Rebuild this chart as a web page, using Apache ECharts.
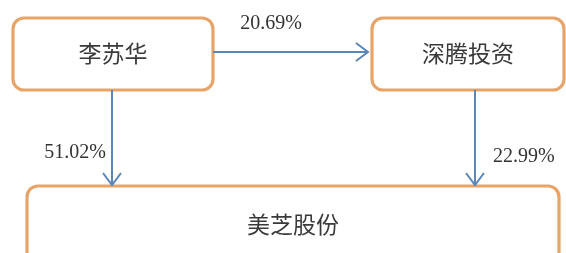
<!DOCTYPE html>
<html>
<head>
<meta charset="utf-8">
<script src="https://cdn.jsdelivr.net/npm/echarts@6/dist/echarts.min.js"></script>
<style>html,body{margin:0;padding:0;background:#fff}#c{width:566px;height:253px}</style>
</head>
<body>
<div id="c"></div>
<script>
// Data
const entities = ['李苏华', '深腾投资', '美芝股份'];
const linkFrom = ['李苏华', '李苏华', '深腾投资'];
const linkTo = ['深腾投资', '美芝股份', '美芝股份'];
const sharePct = [20.69, 51.02, 22.99];

// Layout (in canvas units mapped through hidden value axes)
const boxLayout = {
  '李苏华': [13, 18, 213, 90],
  '深腾投资': [372, 18, 564, 90],
  '美芝股份': [27, 186, 559, 264]
};
const linkLayout = [
  { p: [[213, 52], [368, 52]], label: [271, 24], align: 'center' },
  { p: [[112, 90], [112, 185]], label: [106, 153], align: 'right' },
  { p: [[475, 90], [475, 185]], label: [493, 157], align: 'left' }
];

const boxData = entities.map(n => [...boxLayout[n], n]);
const linkData = sharePct.map((v, i) => {
  const L = linkLayout[i];
  return [L.p[0][0], L.p[0][1], L.p[1][0], L.p[1][1], L.label[0], L.label[1], v, i];
});

const chart = echarts.init(document.getElementById('c'), null, { renderer: 'canvas' });
chart.setOption({
  animation: false,
  grid: { left: 0, right: 0, top: 0, bottom: 0 },
  xAxis: { type: 'value', min: 0, max: 566, show: false },
  yAxis: { type: 'value', min: 0, max: 253, inverse: true, show: false },
  series: [
    {
      type: 'custom',
      coordinateSystem: 'cartesian2d',
      clip: false,
      data: boxData,
      encode: { x: [0, 2], y: [1, 3] },
      renderItem: function (params, api) {
        const a = api.coord([api.value(0), api.value(1)]);
        const b = api.coord([api.value(2), api.value(3)]);
        const name = boxData[params.dataIndex][4];
        return {
          type: 'group',
          children: [
            {
              type: 'rect',
              shape: { x: a[0], y: a[1], width: b[0] - a[0], height: b[1] - a[1], r: 11 },
              style: { fill: '#fff', stroke: '#E8A468', lineWidth: 3.2 }
            },
            {
              type: 'text',
              style: {
                x: (a[0] + b[0]) / 2, y: (a[1] + b[1]) / 2 - 1,
                text: name, align: 'center', verticalAlign: 'middle',
                fill: '#3a3a3a', font: '23px "Noto Sans CJK SC"'
              }
            }
          ]
        };
      }
    },
    {
      type: 'custom',
      coordinateSystem: 'cartesian2d',
      clip: false,
      data: linkData,
      encode: { x: [0, 2], y: [1, 3] },
      renderItem: function (params, api) {
        const s = api.coord([api.value(0), api.value(1)]);
        const e = api.coord([api.value(2), api.value(3)]);
        const l = api.coord([api.value(4), api.value(5)]);
        const v = api.value(6);
        const idx = api.value(7);
        const dx = e[0] - s[0], dy = e[1] - s[1];
        const len = Math.sqrt(dx * dx + dy * dy);
        const ux = dx / len, uy = dy / len;
        const hl = 12, hw = 9;
        const bx = e[0] - ux * hl, by = e[1] - uy * hl;
        const stroke = '#5A86B8';
        return {
          type: 'group',
          children: [
            { type: 'line', shape: { x1: s[0], y1: s[1], x2: e[0], y2: e[1] }, style: { stroke: stroke, lineWidth: 2 } },
            {
              type: 'polyline',
              shape: { points: [[bx - uy * hw, by + ux * hw], [e[0], e[1]], [bx + uy * hw, by - ux * hw]] },
              style: { stroke: stroke, lineWidth: 2, fill: null }
            },
            {
              type: 'text',
              style: {
                x: l[0], y: l[1], text: v.toFixed(2) + '%',
                align: linkLayout[idx].align, verticalAlign: 'middle',
                fill: '#333', font: '20px "Liberation Serif"'
              }
            }
          ]
        };
      }
    }
  ]
});
</script>
</body>
</html>
